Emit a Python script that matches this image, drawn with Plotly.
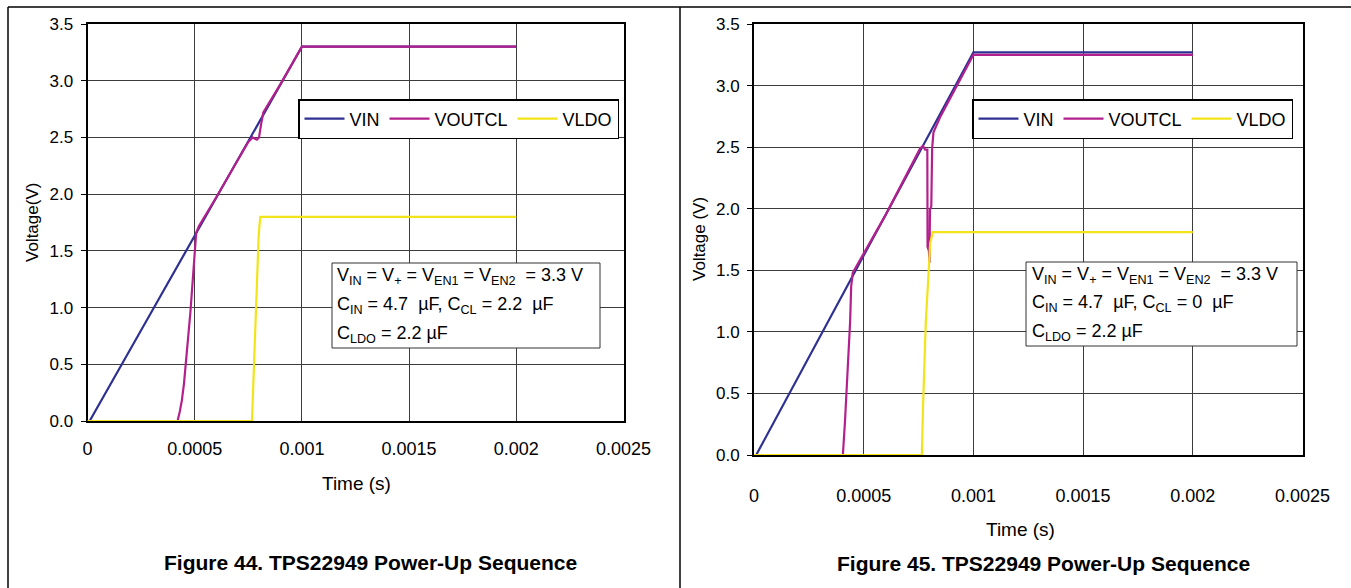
import plotly.graph_objects as go

# ---- Figure 44 (C_CL = 2.2 uF) ----
t44_vin = [0, 0.00001, 0.00025, 0.0005, 0.00075, 0.00078, 0.0008, 0.001, 0.002]
v44_vin = [0, 0, 0.80, 1.63, 2.46, 2.56, 2.63, 3.30, 3.30]

t44_vout = [0, 0.00042, 0.00043, 0.00044, 0.00045, 0.00046, 0.00047, 0.00048, 0.00049, 0.0005,
            0.000507, 0.00052, 0.0006, 0.00075, 0.00077, 0.00079, 0.0008, 0.00081, 0.00082,
            0.0009, 0.001, 0.002]
v44_vout = [0, 0, 0.08, 0.18, 0.33, 0.52, 0.74, 0.96, 1.22, 1.50,
            1.66, 1.72, 1.97, 2.46, 2.50, 2.48, 2.50, 2.62, 2.72,
            2.97, 3.30, 3.30]

t44_vldo = [0, 0.000767, 0.000772, 0.000777, 0.000782, 0.000786, 0.00079, 0.000794, 0.000798,
            0.000802, 0.000806, 0.002]
v44_vldo = [0, 0, 0.25, 0.50, 0.75, 1.00, 1.25, 1.50, 1.62, 1.72, 1.80, 1.80]

# ---- Figure 45 (C_CL = 0 uF) ----
t45_vin = [0, 0.00001, 0.0005, 0.00075, 0.0008, 0.001, 0.002]
v45_vin = [0, 0, 1.62, 2.45, 2.61, 3.27, 3.27]

t45_vout = [0, 0.000405, 0.000415, 0.000423, 0.00043, 0.000438, 0.000443, 0.00045, 0.0006,
            0.000757, 0.00077, 0.00078, 0.00079, 0.000791, 0.000797, 0.0008, 0.000802,
            0.000808, 0.000812, 0.000818, 0.00085, 0.0009, 0.001, 0.002]
v45_vout = [0, 0, 0.28, 0.54, 0.81, 1.08, 1.37, 1.48, 1.95,
            2.49, 2.51, 2.48, 2.48, 1.69, 1.66, 1.56, 1.99,
            2.02, 2.49, 2.62, 2.75, 2.92, 3.25, 3.25]

t45_vldo = [0, 0.000765, 0.00077, 0.000776, 0.000783, 0.000792, 0.000798, 0.000803, 0.000815, 0.002]
v45_vldo = [0, 0, 0.37, 0.72, 1.08, 1.36, 1.56, 1.72, 1.81, 1.81]

series_names = ['VIN', 'VOUTCL', 'VLDO']
x_ticks = [0, 0.0005, 0.001, 0.0015, 0.002, 0.0025]
x_ticktext = ['0', '0.0005', '0.001', '0.0015', '0.002', '0.0025']

colors = ['#2E3192', '#B3208E', '#F2E419']
FONT = 'Liberation Sans, Arial, sans-serif'
W, H = 1351, 588


def px_x(p):
    return p / W


def px_y(p):
    return 1 - p / H


fig = go.Figure()

panels = [
    ([t44_vin, t44_vout, t44_vldo], [v44_vin, v44_vout, v44_vldo], 'x', 'y', 'legend'),
    ([t45_vin, t45_vout, t45_vldo], [v45_vin, v45_vout, v45_vldo], 'x2', 'y2', 'legend2'),
]
for ts, vs, xa, ya, leg in panels:
    for name, t, v, c in zip(series_names, ts, vs, colors):
        fig.add_trace(go.Scatter(x=t, y=v, name=name, mode='lines', xaxis=xa, yaxis=ya,
                                 legend=leg, line=dict(color=c, width=2.2)))

xaxis_style = dict(range=[0, 0.0025], tickvals=x_ticks, ticktext=x_ticktext, showgrid=True,
                   gridcolor='#3c3c3c', gridwidth=1, showline=True, linecolor='black',
                   linewidth=2, mirror=True, ticks='', zeroline=False, layer='below traces',
                   automargin=False,
                   tickfont=dict(size=18, color='black', family=FONT))
yaxis_style = dict(range=[0, 3.5], dtick=0.5, tickformat='.1f', showgrid=True,
                   gridcolor='#3c3c3c', gridwidth=1, showline=True, linecolor='black',
                   linewidth=2, mirror=True, ticks='outside', ticklen=5, tickcolor='black',
                   zeroline=False, layer='below traces', automargin=False,
                   tickfont=dict(size=17, color='black', family=FONT))

legend_style = dict(orientation='h', bgcolor='white', bordercolor='black', borderwidth=1.5,
                    font=dict(size=18, color='black', family=FONT), xanchor='left',
                    yanchor='top', y=px_y(99), itemwidth=40, tracegroupgap=0)

fig.update_layout(
    template='none',
    width=W, height=H,
    margin=dict(l=0, r=0, t=0, b=0, autoexpand=False),
    paper_bgcolor='white', plot_bgcolor='white',
    font=dict(family=FONT, color='black'),
    xaxis=dict(domain=[px_x(87.5), px_x(623.5)], anchor='y', ticklabelstandoff=10, **xaxis_style),
    yaxis=dict(domain=[px_y(421), px_y(24)], anchor='x', ticklabelstandoff=4, **yaxis_style),
    xaxis2=dict(domain=[px_x(754), px_x(1302.5)], anchor='y2', ticklabelstandoff=23, **xaxis_style),
    yaxis2=dict(domain=[px_y(455), px_y(24)], anchor='x2', ticklabelstandoff=4, **yaxis_style),
    legend=dict(x=px_x(298), **legend_style),
    legend2=dict(x=px_x(972), **legend_style),
)

# condition boxes: frame + one text line each
line1 = 'V<sub>IN</sub> = V<sub>+</sub> = V<sub>EN1</sub> = V<sub>EN2</sub> &nbsp;= 3.3 V'
box_lines44 = [line1, 'C<sub>IN</sub> = 4.7 &nbsp;µF, C<sub>CL</sub> = 2.2 &nbsp;µF',
               'C<sub>LDO</sub> = 2.2 µF']
box_lines45 = [line1, 'C<sub>IN</sub> = 4.7 &nbsp;µF, C<sub>CL</sub> = 0 &nbsp;µF',
               'C<sub>LDO</sub> = 2.2 µF']
boxes = [
    (box_lines44, (332, 263, 600, 348), 335, [276, 305, 334]),
    (box_lines45, (1026, 262, 1297, 346), 1030, [275, 303, 332]),
]
for lines, (bx0, by0, bx1, by1), tx, tys in boxes:
    fig.add_shape(type='rect', xref='paper', yref='paper', x0=px_x(bx0), y0=px_y(by0),
                  x1=px_x(bx1), y1=px_y(by1), fillcolor='white',
                  line=dict(color='#333333', width=1))
    for txt, ty in zip(lines, tys):
        fig.add_annotation(text=txt, xref='paper', yref='paper', x=px_x(tx), y=px_y(ty),
                           xanchor='left', yanchor='middle', showarrow=False,
                           font=dict(size=18, color='black', family=FONT))

# axis titles and captions
texts = [
    ('Time (s)', 356, 483, 0, 19, False),
    ('Time (s)', 1020, 529, 0, 19, False),
    ('Voltage(V)', 33, 223, -90, 17, False),
    ('Voltage (V)', 700, 239, -90, 17, False),
    ('Figure 44. TPS22949 Power-Up Sequence', 371, 562, 0, 21, True),
    ('Figure 45. TPS22949 Power-Up Sequence', 1043, 563, 0, 21, True),
]
for txt, x, y, ang, size, bold in texts:
    fig.add_annotation(text='<b>%s</b>' % txt if bold else txt, xref='paper', yref='paper',
                       x=px_x(x), y=px_y(y), xanchor='center', yanchor='middle',
                       showarrow=False, textangle=ang,
                       font=dict(size=size, color='black', family=FONT))

# panel frame lines
frame = [(8, 7, W, 7), (8, 7, 8, H), (680, 7, 680, H)]
for x0, y0, x1, y1 in frame:
    fig.add_shape(type='line', xref='paper', yref='paper', x0=px_x(x0), y0=px_y(y0),
                  x1=px_x(x1), y1=px_y(y1), line=dict(color='black', width=1.5))

# page body has a default 8px margin; drop it so the figure sits at the window origin
fig.write_html("out.html", config={'displayModeBar': False},
               post_script="document.body.style.margin='0';")
